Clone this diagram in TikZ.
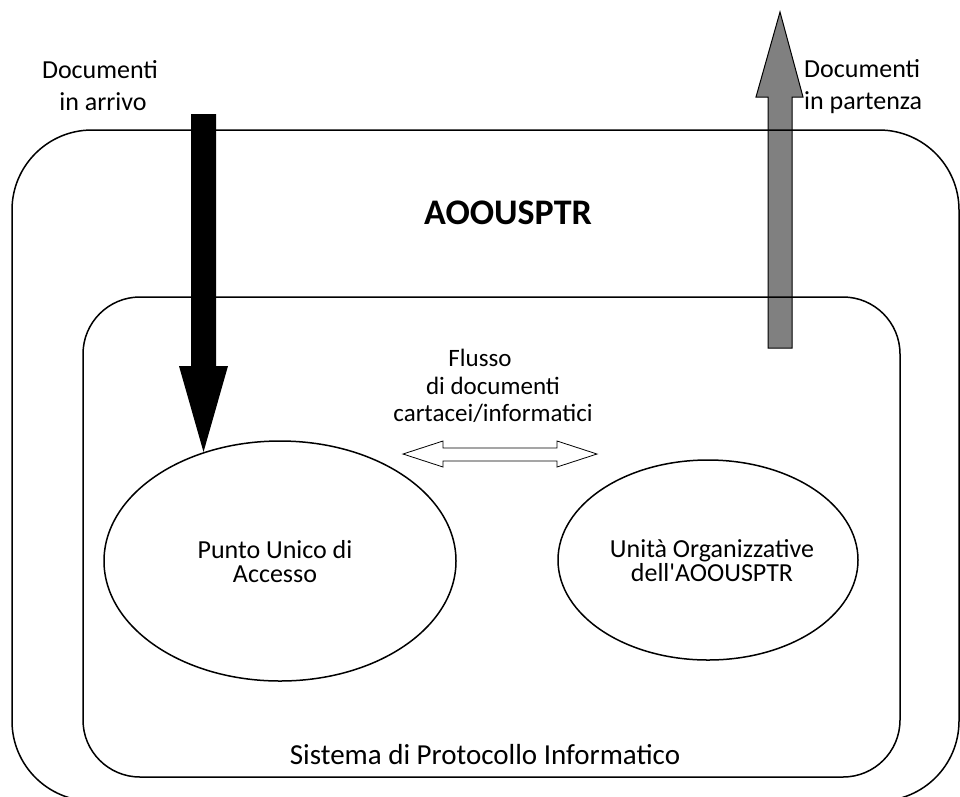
\documentclass[tikz,border=0pt]{standalone}
\usepackage{fontspec}
\setmainfont{Carlito}[Ligatures=TeXOff]
\usetikzlibrary{shapes.geometric}
\begin{document}
\begin{tikzpicture}[x=1pt,y=-1pt,
  txt/.style={font=\fontsize{26}{32}\selectfont, inner sep=0pt, align=center},
  intxt/.style={font=\fontsize{26}{24}\selectfont, inner sep=0pt, align=center},
  frame/.style={draw, line width=1.5pt},
  oval/.style={ellipse, draw, line width=1.5pt, inner sep=0pt},
  blockarrow/.style={line width=1pt, line join=miter}]
\useasboundingbox (0,0) rectangle (960,796);
% arrows (drawn first, frames over them)
\coordinate (inTop) at (203.5,114);
\coordinate (outBot) at (780,348);
\fill[blockarrow] (191,114) -- (216,114) -- (216,366) -- (228,366) -- (203.5,452) -- (179,366) -- (191,366) -- cycle;
\filldraw[blockarrow, fill={rgb,255:red,128;green,128;blue,128}] (768,348) -- (792,348) -- (792,97) -- (803,97) -- (780,12) -- (756,97) -- (768,97) -- cycle;
% frames
\draw[frame, rounded corners=80pt] (12,130) rectangle (959,801);
\draw[frame, rounded corners=57pt] (83,297) rectangle (900,777);
% ellipses
\node[oval, minimum width=352pt, minimum height=240pt] (pua) at (280,561) {};
\node[oval, minimum width=300pt, minimum height=200pt] (uo) at (708,560) {};
\node[intxt] (puatxt) at (275,562) {Punto Unico di\\Accesso};
\node[intxt] (uotxt) at (712,561) {Unità Organizzative\\dell'AOOUSPTR};
% double arrow
\draw[line width=0.8pt, fill=white, line join=miter] (403,454) -- (443,441) -- (443,448) -- (557,448) -- (557,441) -- (597,454) -- (557,467) -- (557,461) -- (443,461) -- (443,467) -- cycle;
% texts
\node[txt] (arrivo) at (100,86) {Documenti\\\hspace*{6pt}in arrivo};
\node[txt, align=left, anchor=west] (partenza) at (804,87) {Documenti\\in partenza};
\node[inner sep=0pt, font=\fontsize{36}{40}\selectfont\bfseries] (aoo) at (508,213) {AOOUSPTR};
\node[font=\fontsize{25}{27.5}\selectfont, inner sep=0pt, align=center] (flusso) at (493,386) {Flusso\hspace*{26pt}\\di documenti\\cartacei/informatici};
\node[inner sep=0pt, font=\fontsize{29}{34}\selectfont] (spi) at (485,755) {Sistema di Protocollo Informatico};
\end{tikzpicture}
\end{document}
